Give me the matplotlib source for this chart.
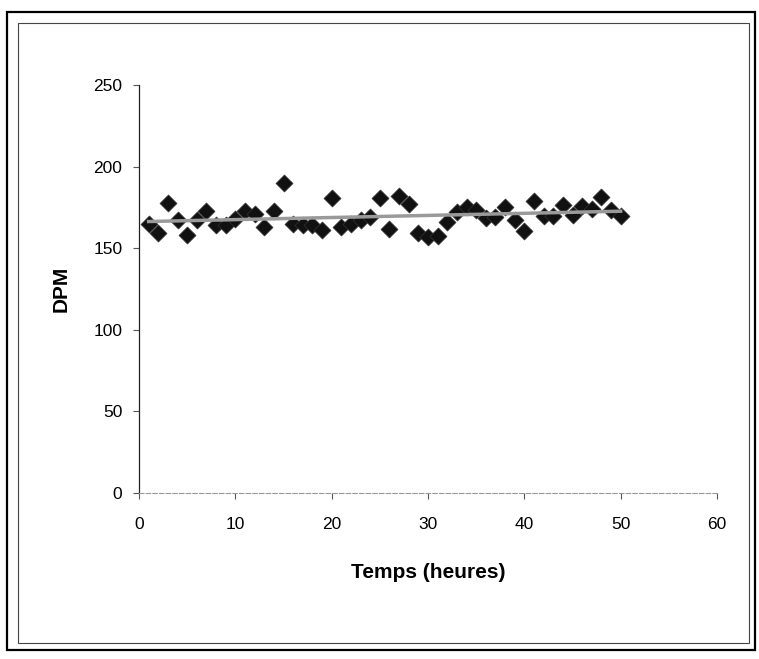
import numpy as np
import matplotlib.pyplot as plt
from matplotlib.patches import Rectangle

plt.rcParams['font.family'] = ['Liberation Sans', 'DejaVu Sans']

# ==================== données ====================
temps = list(range(1, 51))
dpm = [165, 159.5, 177.5, 167.5, 158, 167, 172.5, 164, 164, 168,
       173, 171, 163, 173, 190, 165, 164, 164, 161, 181,
       163, 165, 167, 169, 180.5, 162, 182, 177, 159.5, 157,
       157.5, 166, 172, 175, 173.5, 168.5, 169, 175.5, 167, 160.5,
       179, 170, 170, 176.5, 170.5, 176, 174, 181.5, 173.5, 170]
x_ticks = [0, 10, 20, 30, 40, 50, 60]
y_ticks = [0, 50, 100, 150, 200, 250]

# droite de tendance (régression linéaire)
a, b = np.polyfit(temps, dpm, 1)
x_fit = np.array([temps[0], temps[-1]])

fig = plt.figure(figsize=(7.59, 6.59), dpi=100)
W, H = 759, 659

# cadres
fig.patches.append(Rectangle((7 / W, 1 - 650 / H), 748 / W, 638 / H, transform=fig.transFigure,
                             fill=False, edgecolor='black', linewidth=1.6))
fig.patches.append(Rectangle((18 / W, 1 - 643 / H), 731 / W, 620 / H, transform=fig.transFigure,
                             fill=False, edgecolor='#444444', linewidth=0.8))

ax = fig.add_axes([139 / W, 1 - 493 / H, (717 - 139) / W, (493 - 85) / H])
ax.scatter(temps, dpm, marker='D', s=75, color='#111111', edgecolors='#333333', linewidths=0.5, zorder=3)
ax.plot(x_fit, a * x_fit + b, color='#9a9a9a', linewidth=2.5, zorder=4)

ax.set_xlim(0, 60)
ax.set_ylim(0, 250)
ax.set_xticks(x_ticks)
ax.set_yticks(y_ticks)
ax.spines['top'].set_visible(False)
ax.spines['right'].set_visible(False)
ax.spines['left'].set_color('#222222')
ax.spines['left'].set_linewidth(0.9)
ax.spines['bottom'].set_color('#999999')
ax.spines['bottom'].set_linewidth(0.8)
ax.spines['bottom'].set_linestyle((0, (4, 2)))
ax.tick_params(axis='both', labelsize=12.5, direction='out', length=4, width=0.8, color='#555555')
ax.tick_params(axis='x', pad=13.5)
ax.tick_params(axis='y', pad=8)

ax.set_xlabel('Temps (heures)', fontsize=15, fontweight='bold', labelpad=22)
ax.set_ylabel('DPM', fontsize=15, fontweight='bold', labelpad=16)

fig.savefig('out.png', dpi=100)
